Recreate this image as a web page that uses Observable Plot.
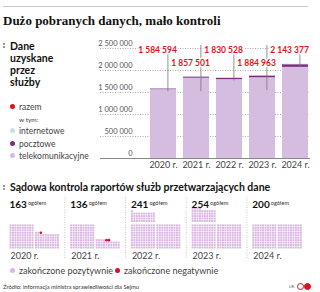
<!DOCTYPE html>
<html><head><meta charset="utf-8">
<script src="https://cdn.jsdelivr.net/npm/d3@7"></script>
<script src="https://cdn.jsdelivr.net/npm/@observablehq/plot@0.6"></script>
<style>
body{margin:0;width:320px;height:292px;position:relative;overflow:hidden;background:#fff;font-family:Lato,"Noto Sans",sans-serif;color:#333}
.abs{position:absolute;white-space:nowrap}
.lg{position:absolute;white-space:nowrap;font-size:8.5px;line-height:12px;color:#444}
.dot{display:inline-block;width:5px;height:5px;border-radius:50%;vertical-align:middle;margin-right:4px;position:relative;top:-1px}
.mk{position:absolute;width:1.5px;height:1.5px;background:#999}
</style></head><body>
<div class="abs" style="left:3px;top:6px;width:305px;height:1px;background:#c8c8c8"></div>
<div class="abs" style="left:3px;top:13px;font:bold 13px/15px 'Liberation Serif',serif;color:#111">Dużo pobranych danych, mało kontroli</div>

<div class="mk" style="left:3px;top:43px"></div><div class="mk" style="left:3px;top:46px"></div>
<div class="abs" style="left:10px;top:39.5px;font-weight:bold;font-size:10.5px;line-height:12.3px;color:#111">Dane<br>uzyskane<br>przez<br>służby</div>

<div class="lg" style="left:10px;top:101px"><span class="dot" style="background:#d9141e"></span>razem</div>
<div class="lg" style="left:19px;top:114px;font-size:6.5px">w tym:</div>
<div class="lg" style="left:10px;top:125px"><span class="dot" style="background:#c9dfe3"></span>internetowe</div>
<div class="lg" style="left:10px;top:138px"><span class="dot" style="background:#7e2d7e"></span>pocztowe</div>
<div class="lg" style="left:10px;top:150px"><span class="dot" style="background:#d5bde0"></span>telekomunikacyjne</div>

<div id="bars" class="abs" style="left:90px;top:30px"></div>

<div class="mk" style="left:3px;top:185px"></div><div class="mk" style="left:3px;top:188px"></div>
<div class="abs" style="left:10px;top:181px;font-weight:bold;font-size:10.5px;line-height:12px;color:#111">Sądowa kontrola raportów służb przetwarzających dane</div>

<div id="waffle" class="abs" style="left:0px;top:190px"></div>

<div class="lg" style="left:10px;top:265px;font-size:9px"><span class="dot" style="background:#d8b9e0"></span>zakończone pozytywnie</div>
<div class="lg" style="left:115px;top:265px;font-size:9px"><span class="dot" style="background:#d6101e"></span>zakończone negatywnie</div>

<div class="abs" style="left:3px;top:283px;font-size:5.8px;line-height:8px;color:#333">Źródło: informacja ministra sprawiedliwości dla Sejmu</div>
<div class="abs" style="left:289px;top:283px;font-size:4.5px;line-height:8px;color:#555">LR</div>
<div class="abs" style="left:297px;top:283px;width:5px;height:5px;border:1.2px solid #d9141e;border-radius:50%"></div>
<div class="abs" style="left:304px;top:283px;width:5px;height:5px;border:1.2px solid #d9141e;border-radius:50%;background:#d9141e"></div>

<script>
// ---- data: bar chart ----
const years = ["2020 r.", "2021 r.", "2022 r.", "2023 r.", "2024 r."];
const totals = [1584594, 1857501, 1830528, 1884963, 2143377];
const postal = [15000, 25000, 30000, 40000, 60000];
const internet = [5000, 7000, 8000, 10000, 12000];
const yTicks = [0, 500000, 1000000, 1500000, 2000000, 2500000];
const totalLabels = ["1 584 594", "1 857 501", "1 830 528", "1 884 963", "2 143 377"];

// ---- data: court control ----
const courtTotals = [163, 136, 241, 254, 200];
const courtNeg = [1, 2, 0, 0, 0];

const RED = "#e3121d";
const types = ["telekomunikacyjne", "pocztowe", "internetowe"];
const rows = years.flatMap((yr, i) => [
  {year: yr, type: "telekomunikacyjne", value: totals[i] - postal[i] - internet[i]},
  {year: yr, type: "pocztowe", value: postal[i]},
  {year: yr, type: "internetowe", value: internet[i]}
]);
const lab = years.map((yr, i) => ({year: yr, total: totals[i], text: totalLabels[i], i}));
const fmt = d => d3.format(",")(d).replace(/,/g, " ");

const bars = Plot.plot({
  width: 230, height: 145,
  marginLeft: 52, marginRight: 4, marginTop: 18, marginBottom: 17,
  style: {fontFamily: "Lato, 'Noto Sans', sans-serif", background: "transparent"},
  x: {domain: years, padding: 0.2, axis: null, label: null},
  y: {domain: [0, 2500000], axis: null},
  color: {domain: types, range: ["#d5bde0", "#7e2d7e", "#c9dfe3"]},
  marks: [
    Plot.ruleY(yTicks.filter(d => d > 0), {y: d => d, stroke: "#aaa", strokeDasharray: "1,1.5", insetLeft: -42, insetRight: 6}),
    Plot.barY(rows, {x: "year", y: "value", fill: "type"}),
    Plot.ruleY([0], {stroke: "#888", insetLeft: -42, insetRight: 6}),
    Plot.text(yTicks, {y: d => d, text: fmt, frameAnchor: "left", dx: -10, dy: -5, textAnchor: "end", fontSize: 7.5, fill: "#555"}),
    Plot.axisX({tickSize: 0, tickPadding: 3, fontSize: 9, fill: "#444", label: null}),
    Plot.ruleX(lab.filter(d => d.i % 2 === 0), {x: "year", y1: "total", y2: 2500000, dx: 4.4, insetTop: 3, insetBottom: 3, stroke: "#777", strokeWidth: 0.8}),
    Plot.ruleX(lab.filter(d => d.i % 2 === 1), {x: "year", y1: "total", y2: 2500000, dx: 4.4, insetTop: 15, insetBottom: 3, stroke: "#777", strokeWidth: 0.8}),
    Plot.text(lab.filter(d => d.i % 2 === 0), {x: "year", text: "text", frameAnchor: "top", dy: -2, dx: 13.4, textAnchor: "end", fill: RED, fontWeight: "bold", fontSize: 8.5, stroke: "white", strokeWidth: 3}),
    Plot.text(lab.filter(d => d.i % 2 === 1), {x: "year", text: "text", frameAnchor: "top", dy: 11, dx: 13.4, textAnchor: "end", fill: RED, fontWeight: "bold", fontSize: 8.5, stroke: "white", strokeWidth: 3})
  ]
});
document.getElementById("bars").appendChild(bars);

// ---- waffle ----
const G = 24.8; // group step in dot units
const dots = years.flatMap((yr, g) => d3.range(courtTotals[g]).map(i => {
  const b = Math.floor(i / 100), k = i % 100;
  return {
    x: g * G + (b === 1 ? 10.4 : 0) + (k % 10),
    y: (b === 2 ? 10.8 : 0) + Math.floor(k / 10),
    neg: i >= courtTotals[g] - courtNeg[g]
  };
}));
const grp = years.map((yr, g) => ({yr, g, x: g * G, total: courtTotals[g]}));

const waffle = Plot.plot({
  width: 320, height: 75,
  marginLeft: 10, marginRight: 6.5, marginTop: 3, marginBottom: 18,
  style: {fontFamily: "Lato, 'Noto Sans', sans-serif", background: "transparent"},
  x: {domain: [0, 5 * G], axis: null},
  y: {domain: [0, 22], axis: null},
  marks: [
    Plot.ruleX(grp.filter(d => d.g > 0), {x: d => d.x - 2.6, stroke: "#c8c8c8", strokeDasharray: "1,1.5", insetTop: 4, insetBottom: -11}),
    Plot.dot(dots.filter(d => !d.neg), {x: "x", y: "y", r: 1.1, symbol: "square", fill: "#d9b6e1"}),
    Plot.dot(dots.filter(d => d.neg), {x: "x", y: "y", r: 1.3, fill: "#d6101e"}),
    Plot.text(grp, {x: "x", text: d => String(d.total), frameAnchor: "top", dy: 7, dx: -1, textAnchor: "start", fontWeight: "bold", fontSize: 10, fill: "#111"}),
    Plot.text(grp, {x: "x", text: () => "ogółem", frameAnchor: "top", dy: 7.5, dx: 17.5, textAnchor: "start", fontSize: 5.5, fill: "#333"}),
    Plot.text(grp, {x: "x", text: "yr", frameAnchor: "bottom", dy: 11, dx: 0, textAnchor: "start", fontSize: 9, fill: "#444"})
  ]
});
document.getElementById("waffle").appendChild(waffle);
</script>
</body></html>
